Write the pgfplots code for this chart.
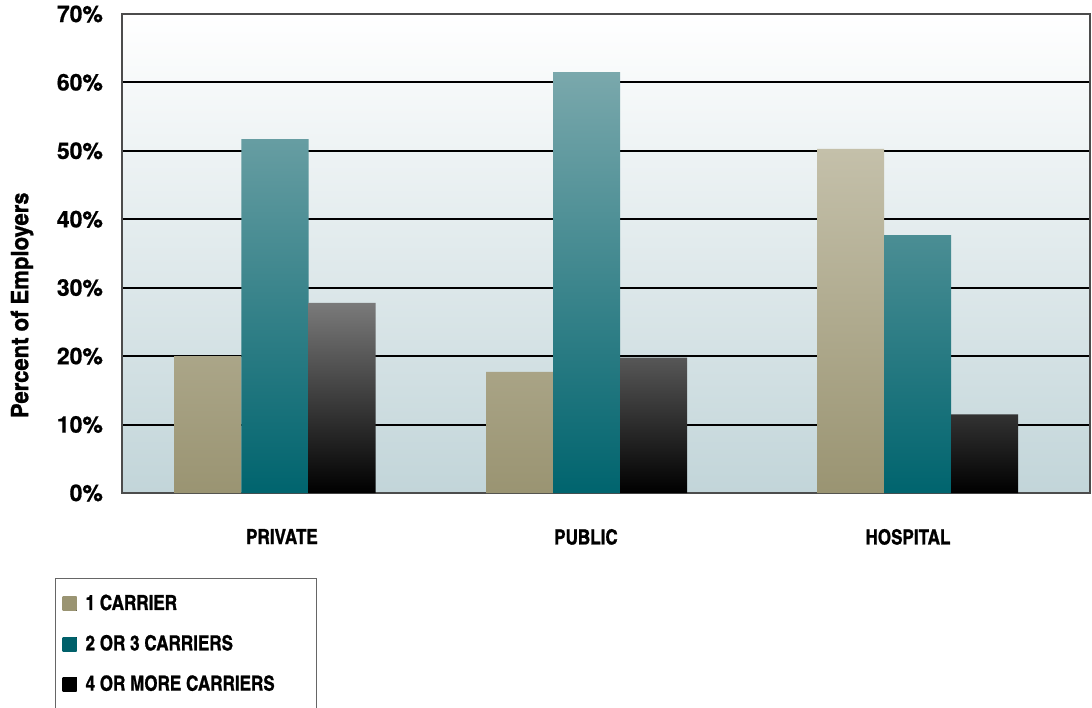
\documentclass[border=0pt]{standalone}
\usepackage{fontspec}
\usepackage{pgfplots}
\pgfplotsset{compat=1.18}
\setmainfont{texgyreheroscn-bold.otf}[FakeBold=1]
\newfontfamily\ticksfont{texgyreheros-bold.otf}[FakeBold=0.6]
\newfontfamily\ylabfont{texgyreheroscn-bold.otf}[FakeStretch=1.12, FakeBold=1]
\definecolor{begT}{HTML}{C4C0AA}
\definecolor{begB}{HTML}{9A9472}
\definecolor{tealT}{HTML}{7AA8AC}
\definecolor{tealB}{HTML}{00646E}
\definecolor{grT}{HTML}{7A7A7A}
\definecolor{grB}{HTML}{000000}
\definecolor{bgB}{HTML}{C2D5D9}
\definecolor{legBeige}{HTML}{9A9472}
\definecolor{legTeal}{HTML}{00606A}
\begin{document}
\begin{tikzpicture}
\useasboundingbox (-61pt,-107pt) rectangle (485pt,246.5pt);
\begin{axis}[
  at={(0pt,0pt)}, anchor=south west,
  scale only axis, width=484pt, height=239.5pt,
  xmin=122, xmax=1090, ymin=0, ymax=70,
  ytick={0,10,...,70},
  yticklabel={\pgfmathparse{int(round(\tick))}\pgfmathresult\%},
  yticklabel style={font=\ticksfont\fontsize{11.5pt}{13pt}\selectfont, anchor=east, xshift=-6pt},
  xtick={282,586,908}, xticklabels={PRIVATE,PUBLIC,HOSPITAL},
  xticklabel style={font=\fontsize{10.4pt}{12pt}\selectfont, anchor=north, yshift=-14.5pt},
  major tick length=0pt,
  ymajorgrids, grid style={black, line width=1pt},
  axis line style={draw=black!70, line width=0.8pt},
  axis background/.style={shade, top color=white, bottom color=bgB},
  ylabel={Percent of Employers},
  ylabel style={at={(axis description cs:-0.1033,0.392)}, anchor=center, font=\ylabfont\fontsize{12pt}{14pt}\selectfont},
  bar width=67,
  legend style={at={(axis description cs:-0.0692,-0.1775)}, anchor=north west,
    draw=black!60, line width=0.6pt, fill=white, font=\fontsize{10.4pt}{12pt}\selectfont,
    inner xsep=2pt, inner ysep=6pt, row sep=7pt, cells={anchor=west}},
  legend cell align=left,
]
\addplot[ybar, bar shift=-67, draw=none, shade, top color=begT, bottom color=begB,
  legend image code/.code={\path (0pt,0pt) -- (11pt,0pt);
    \fill[top color=legBeige, bottom color=legBeige] (1.5pt,-3.5pt) rectangle (8.5pt,3.5pt);}]
  coordinates {(275,20) (586.5,17.7) (917.5,50.3)};
\addlegendentry{\makebox[111.5pt][l]{1 CARRIER}}
\addplot[ybar, bar shift=0, draw=none, shade, top color=tealT, bottom color=tealB,
  legend image code/.code={\path (0pt,0pt) -- (11pt,0pt);
    \fill[top color=legTeal, bottom color=legTeal] (1.5pt,-3.5pt) rectangle (8.5pt,3.5pt);}]
  coordinates {(275,51.7) (586.5,61.5) (917.5,37.7)};
\addlegendentry{\makebox[111.5pt][l]{2 OR 3 CARRIERS}}
\addplot[ybar, bar shift=67, draw=none, shade, top color=grT, bottom color=grB,
  legend image code/.code={\path (0pt,0pt) -- (11pt,0pt);
    \fill[top color=black, bottom color=black] (1.5pt,-3.5pt) rectangle (8.5pt,3.5pt);}]
  coordinates {(275,27.8) (586.5,19.8) (917.5,11.5)};
\addlegendentry{\makebox[111.5pt][l]{4 OR MORE CARRIERS}\rule[-22pt]{0pt}{1pt}}
\end{axis}
\end{tikzpicture}
\end{document}
